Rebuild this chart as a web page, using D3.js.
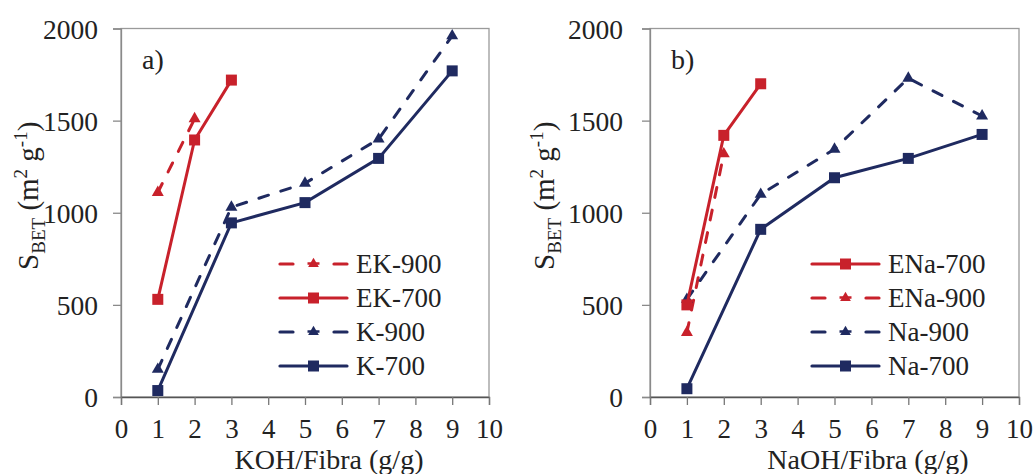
<!DOCTYPE html>
<html>
<head>
<meta charset="utf-8">
<script src="https://cdn.jsdelivr.net/npm/d3@7"></script>
<style>
  body { margin: 0; background: #fff; }
  svg, svg text { font-family: "Liberation Serif", "Times New Roman", serif !important; }
</style>
</head>
<body>
<svg id="chart" width="1033" height="474"></svg>
<script>
// ---------- data ----------
const xTicks = [0,1,2,3,4,5,6,7,8,9,10];
const yTicks = [0,500,1000,1500,2000];

const xLong = [1,3,5,7,9];
const xE700 = [1,2,3];
const xE900 = [1,2];

// panel a (KOH)
const EK900 = [1110, 1510];
const EK700 = [530, 1395, 1720];
const K900  = [150, 1030, 1160, 1400, 1960];
const K700  = [35, 945, 1055, 1295, 1770];

// panel b (NaOH)
const ENa700 = [500, 1420, 1700];
const ENa900 = [350, 1320];
const Na900  = [530, 1100, 1345, 1730, 1525];
const Na700  = [45, 910, 1190, 1295, 1425];

const RED = "#C8212B";
const NAVY = "#1F2A60";
const FONT = "Liberation Serif";

const panels = [
  {
    tag: "a)", xTitle: "KOH/Fibra (g/g)", left: 121, right: 489, yTitleX: 28, xTitleX: 329, yPad: 15,
    series: [
      {name: "EK-900", x: xE900, y: EK900, color: RED,  dashed: true,  marker: "tri"},
      {name: "EK-700", x: xE700, y: EK700, color: RED,  dashed: false, marker: "sq"},
      {name: "K-900",  x: xLong, y: K900,  color: NAVY, dashed: true,  marker: "tri"},
      {name: "K-700",  x: xLong, y: K700,  color: NAVY, dashed: false, marker: "sq"}
    ],
    legendX: 279
  },
  {
    tag: "b)", xTitle: "NaOH/Fibra (g/g)", left: 650, right: 1019, yTitleX: 544, xTitleX: 868, yPad: 19,
    series: [
      {name: "ENa-700", x: xE700, y: ENa700, color: RED,  dashed: false, marker: "sq"},
      {name: "ENa-900", x: xE900, y: ENa900, color: RED,  dashed: true,  marker: "tri"},
      {name: "Na-900",  x: xLong, y: Na900,  color: NAVY, dashed: true,  marker: "tri"},
      {name: "Na-700",  x: xLong, y: Na700,  color: NAVY, dashed: false, marker: "sq"}
    ],
    legendX: 811
  }
];

const svg = d3.select("#chart").style("font-family", FONT);
const plotTop = 28.5, plotBottom = 397;
const DASH = "10,13";

function drawMarker(g, type, color, cx, cy, legend) {
  if (type === "sq") {
    g.append("path")
      .attr("d", d3.symbol(d3.symbolSquare, 121)())
      .attr("transform", `translate(${cx},${cy})`)
      .attr("fill", color);
  } else {
    g.append("path")
      .attr("d", d3.symbol(d3.symbolTriangle, legend ? 50 : 62)())
      .attr("transform", `translate(${cx},${cy})`)
      .attr("fill", color);
    if (legend) {
      g.append("line").attr("x1", cx - 6).attr("x2", cx + 6)
        .attr("y1", cy - 0.5).attr("y2", cy - 0.5)
        .attr("stroke", color).attr("stroke-width", 2.5);
    }
  }
}

panels.forEach(p => {
  const x = d3.scaleLinear().domain([0, 10]).range([p.left, p.right]);
  const y = d3.scaleLinear().domain([0, 2000]).range([plotBottom, plotTop]);
  const g = svg.append("g").style("font-family", FONT);

  // frame
  g.append("rect")
    .attr("x", p.left).attr("y", plotTop)
    .attr("width", p.right - p.left).attr("height", plotBottom - plotTop)
    .attr("fill", "none").attr("stroke", "#9a9a9a").attr("stroke-width", 1.3);

  // y axis
  const yAx = g.append("g").attr("transform", `translate(${p.left},0)`)
    .call(d3.axisLeft(y).tickValues(yTicks).tickSize(8).tickPadding(p.yPad).tickFormat(d3.format("d")));
  yAx.attr("font-family", null).style("font-family", FONT);
  yAx.select(".domain").attr("stroke", "#8a8a8a").attr("stroke-width", 1.3);
  yAx.selectAll(".tick line").attr("stroke", "#8a8a8a").attr("stroke-width", 1.3);
  yAx.selectAll("text").style("font-family", FONT).attr("font-size", 27.5)
    .attr("fill", "#222").attr("dy", "0.36em");

  // x axis
  const xAx = g.append("g").attr("transform", `translate(0,${plotBottom})`)
    .call(d3.axisBottom(x).tickValues(xTicks).tickSize(8).tickPadding(14).tickFormat(d3.format("d")));
  xAx.attr("font-family", null).style("font-family", FONT);
  xAx.select(".domain").attr("stroke", "#555").attr("stroke-width", 1.3);
  xAx.selectAll(".tick line").attr("stroke", "#777").attr("stroke-width", 1.3);
  xAx.selectAll("text").style("font-family", FONT).attr("font-size", 27)
    .attr("fill", "#222");

  // axis titles
  g.append("text")
    .attr("x", p.xTitleX).attr("y", 469)
    .attr("text-anchor", "middle").attr("font-size", 28).attr("fill", "#222")
    .style("font-family", FONT)
    .text(p.xTitle);

  const yt = g.append("text")
    .attr("transform", `translate(${p.yTitleX},${(plotTop + plotBottom) / 2 - 17}) rotate(-90)`)
    .attr("text-anchor", "middle").attr("font-size", 29).attr("fill", "#222")
    .style("font-family", FONT)
    .attr("dy", "0.35em");
  yt.append("tspan").text("S");
  yt.append("tspan").attr("font-size", 19).attr("dy", 7).text("BET");
  yt.append("tspan").attr("dy", -7).text(" (m");
  yt.append("tspan").attr("font-size", 19).attr("dy", -11).text("2");
  yt.append("tspan").attr("dy", 11).text(" g");
  yt.append("tspan").attr("font-size", 19).attr("dy", -11).text("-1");
  yt.append("tspan").attr("dy", 11).text(")");

  // panel tag
  g.append("text").attr("x", p.left + 21).attr("y", 69)
    .attr("font-size", 28).attr("fill", "#222").style("font-family", FONT).text(p.tag);

  // series: draw dashed first, then solid
  const order = p.series.filter(s => s.dashed).concat(p.series.filter(s => !s.dashed));
  order.forEach(s => {
    const pts = s.x.map((xv, i) => [xv, s.y[i]]);
    const line = d3.line().x(d => x(d[0])).y(d => y(d[1]));
    g.append("path").datum(pts).attr("d", line)
      .attr("fill", "none").attr("stroke", s.color).attr("stroke-width", 3)
      .attr("stroke-linecap", "round")
      .attr("stroke-dasharray", s.dashed ? DASH : null);
    pts.forEach(d => drawMarker(g, s.marker, s.color, x(d[0]), y(d[1]), false));
  });

  // legend
  p.series.forEach((s, i) => {
    const ly = 264 + i * 34;
    const lx0 = p.legendX, lx1 = p.legendX + 69;
    if (s.dashed) {
      g.append("line").attr("x1", lx0 + 1).attr("x2", lx0 + 14).attr("y1", ly).attr("y2", ly)
        .attr("stroke", s.color).attr("stroke-width", 3.2).attr("stroke-linecap", "round");
      g.append("line").attr("x1", lx1 - 14).attr("x2", lx1 - 1).attr("y1", ly).attr("y2", ly)
        .attr("stroke", s.color).attr("stroke-width", 3.2).attr("stroke-linecap", "round");
    } else {
      g.append("line").attr("x1", lx0 + 1).attr("x2", lx1 - 1).attr("y1", ly).attr("y2", ly)
        .attr("stroke", s.color).attr("stroke-width", 3.2).attr("stroke-linecap", "round");
    }
    drawMarker(g, s.marker, s.color, (lx0 + lx1) / 2, ly, true);
    g.append("text").attr("x", lx1 + 8).attr("y", ly).attr("dy", "0.35em")
      .attr("font-size", 27).attr("fill", "#222").style("font-family", FONT).text(s.name);
  });
});
</script>
</body>
</html>
